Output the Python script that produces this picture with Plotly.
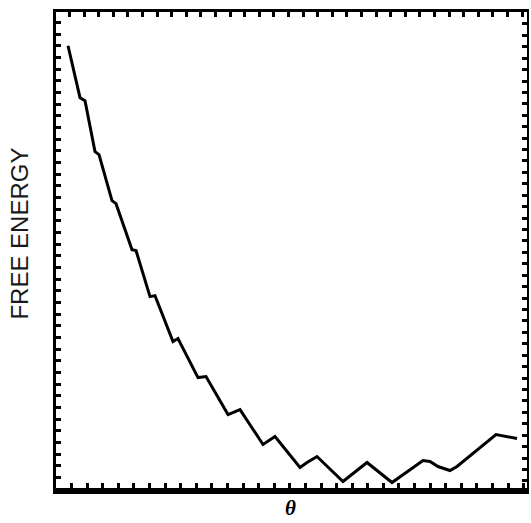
import plotly.graph_objects as go

# Free-energy profile along the reaction coordinate theta (arbitrary units)
theta = [2.55, 5.10, 6.16, 8.28, 9.13, 11.89, 12.74, 16.14, 16.99, 19.96,
         21.02, 24.84, 25.90, 30.15, 31.85, 36.52, 39.07, 43.95, 46.50, 51.80,
         53.29, 55.41, 60.93, 66.03, 71.34, 77.92, 79.41, 81.10, 83.65, 85.14,
         93.42, 95.54, 97.88]
free_energy = [92.91, 82.00, 81.37, 70.66, 70.03, 60.37, 59.74, 50.08, 49.87, 40.21,
               40.42, 30.76, 31.39, 23.20, 23.41, 15.43, 16.48, 9.13, 10.81, 4.30,
               5.35, 6.61, 1.36, 5.35, 1.15, 5.77, 5.56, 4.51, 3.67, 4.51,
               11.23, 10.81, 10.39]

x_title = "<b><i>θ</i></b>"
y_title = "FREE ENERGY"

X_RANGE = [0, 100]
Y_RANGE = [0, 100]

fig = go.Figure()
fig.add_trace(go.Scatter(
    x=theta, y=free_energy, mode="lines",
    line=dict(color="black", width=3, shape="linear"),
    hoverinfo="skip", showlegend=False,
))
# invisible trace so the mirrored top/right axes are drawn
fig.add_trace(go.Scatter(
    x=[X_RANGE[0]], y=[Y_RANGE[0]], xaxis="x2", yaxis="y2",
    mode="markers", marker=dict(opacity=0), hoverinfo="skip", showlegend=False,
))

tick_style = dict(ticks="inside", ticklen=5, tickwidth=2.5, tickcolor="black",
                  showticklabels=False, showgrid=False, zeroline=False,
                  showline=True, linecolor="black", fixedrange=True)

fig.update_layout(
    width=531, height=523,
    margin=dict(l=56, r=4, t=12.25, b=34.5, pad=0),
    paper_bgcolor="white", plot_bgcolor="white",
    xaxis=dict(range=X_RANGE, tick0=3.31, dtick=3.31, linewidth=6, **tick_style),
    xaxis2=dict(range=X_RANGE, overlaying="x", side="top", tick0=2.85, dtick=3.10,
                linewidth=2.5, **tick_style),
    yaxis=dict(range=Y_RANGE, tick0=2.24, dtick=2.45, linewidth=3, **tick_style),
    yaxis2=dict(range=Y_RANGE, overlaying="y", side="right", tick0=1.5, dtick=2.40,
                linewidth=2, **tick_style),
    annotations=[
        dict(text=y_title, textangle=-90, xref="paper", yref="paper",
             x=-0.078, y=0.535, xanchor="center", yanchor="middle", showarrow=False,
             font=dict(family="Liberation Sans, Arial, sans-serif", size=24, color="#1a1a1a")),
        dict(text=x_title, xref="paper", yref="paper",
             x=0.497, y=-0.043, xanchor="center", yanchor="middle", showarrow=False,
             font=dict(family="Liberation Serif, DejaVu Serif, serif", size=21, color="black")),
    ],
)

fig.write_html("out.html")
